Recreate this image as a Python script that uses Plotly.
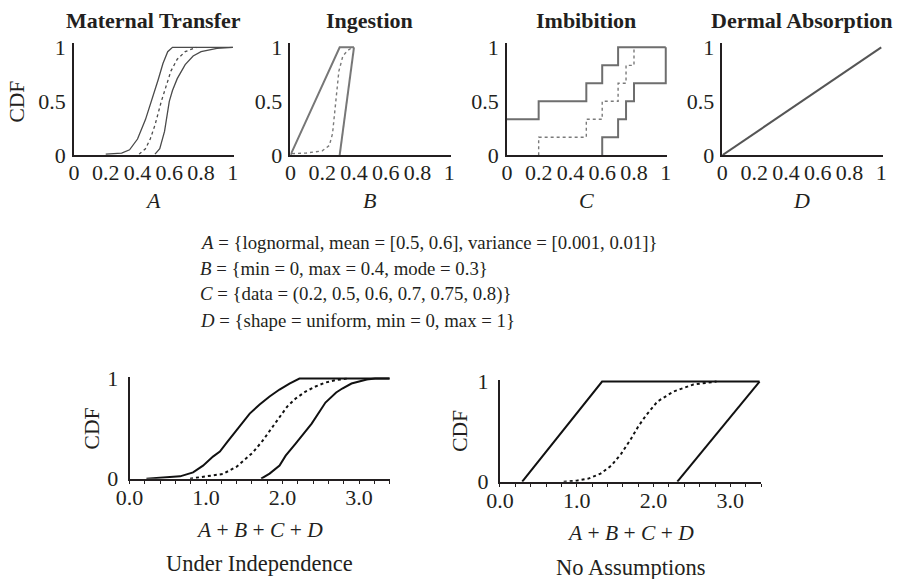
import plotly.graph_objects as go

# figure size and the placement frame (frame pixel = OFF + K * figure pixel)
W, H = 901, 595
OFF_X, K_X = 9.6, 0.987
OFF_Y, K_Y = 10.0, 0.96

# ---- top row: input p-boxes -------------------------------------------
maternal_left_x = [0.2, 0.3, 0.35, 0.4, 0.45, 0.5, 0.53, 0.56, 0.59, 0.62, 1.0]
maternal_left_y = [0.01, 0.02, 0.05, 0.15, 0.33, 0.55, 0.7, 0.85, 0.96, 1.0, 1.0]
maternal_mid_x = [0.41, 0.45, 0.48, 0.51, 0.55, 0.58, 0.61, 0.65, 0.7, 0.77]
maternal_mid_y = [0.01, 0.06, 0.15, 0.28, 0.5, 0.65, 0.78, 0.89, 0.96, 1.0]
maternal_right_x = [0.51, 0.54, 0.57, 0.6, 0.62, 0.65, 0.7, 0.75, 0.8, 0.9, 1.0]
maternal_right_y = [0.01, 0.06, 0.22, 0.5, 0.6, 0.71, 0.84, 0.92, 0.96, 0.99, 1.0]

ingestion_left_x = [0.0, 0.31, 0.4]
ingestion_left_y = [0.0, 1.0, 1.0]
ingestion_right_x = [0.31, 0.4]
ingestion_right_y = [0.0, 1.0]
ingestion_mid_x = [0.01, 0.1, 0.2, 0.245, 0.265, 0.28, 0.29, 0.305, 0.33, 0.36, 0.39]
ingestion_mid_y = [0.015, 0.02, 0.04, 0.09, 0.2, 0.4, 0.55, 0.78, 0.92, 0.97, 1.0]

imbibition_upper_x = [0.0, 0.2, 0.5, 0.6, 0.7, 1.0]
imbibition_upper_y = [0.333, 0.5, 0.667, 0.833, 1.0, 1.0]
imbibition_lower_x = [0.6, 0.6, 0.7, 0.75, 0.8, 1.0]
imbibition_lower_y = [0.0, 0.167, 0.333, 0.5, 0.667, 1.0]
imbibition_mid_x = [0.2, 0.2, 0.5, 0.6, 0.7, 0.75, 0.8]
imbibition_mid_y = [0.0, 0.167, 0.333, 0.5, 0.667, 0.833, 1.0]

dermal_x = [0.0, 1.0]
dermal_y = [0.0, 1.0]

# ---- bottom row: sum A + B + C + D ------------------------------------
indep_left_x = [0.22, 0.5, 0.66, 0.83, 0.96, 1.09, 1.18, 1.28, 1.39, 1.48, 1.57,
                1.7, 1.83, 1.96, 2.09, 2.22, 3.4]
indep_left_y = [0.0, 0.01, 0.023, 0.063, 0.13, 0.22, 0.27, 0.37, 0.48, 0.57, 0.65,
                0.74, 0.82, 0.89, 0.95, 1.0, 1.0]
indep_mid_x = [0.79, 1.0, 1.22, 1.4, 1.61, 1.74, 1.85, 1.96, 2.06, 2.17, 2.3,
               2.43, 2.56, 2.7, 2.85]
indep_mid_y = [0.0, 0.02, 0.047, 0.12, 0.26, 0.38, 0.5, 0.62, 0.72, 0.8, 0.87,
               0.92, 0.96, 0.985, 1.0]
indep_right_x = [1.72, 1.83, 1.96, 2.04, 2.17, 2.28, 2.38, 2.56, 2.7, 2.78, 2.9,
                 3.0, 3.1, 3.21, 3.4]
indep_right_y = [0.0, 0.05, 0.13, 0.23, 0.35, 0.46, 0.55, 0.76, 0.86, 0.9, 0.95,
                 0.97, 0.99, 1.0, 1.0]

noassume_left_x = [0.29, 1.33, 3.38]
noassume_left_y = [0.0, 1.0, 1.0]
noassume_right_x = [2.31, 3.38]
noassume_right_y = [0.0, 1.0]
noassume_mid_x = [0.83, 1.0, 1.15, 1.31, 1.45, 1.58, 1.7, 1.8, 1.9, 2.05, 2.26,
                  2.52, 2.82]
noassume_mid_y = [0.0, 0.01, 0.03, 0.08, 0.16, 0.28, 0.42, 0.55, 0.66, 0.8, 0.9,
                  0.97, 1.0]

panel_titles = ["Maternal Transfer", "Ingestion", "Imbibition", "Dermal Absorption"]
panel_vars = ["A", "B", "C", "D"]
top_ticks = [0, 0.2, 0.4, 0.6, 0.8, 1]
top_ticktext = ["0", "0.2", "0.4", "0.6", "0.8", "1"]
cdf_ticks = [0, 0.5, 1]
cdf_ticktext = ["0", "0.5", "1"]
sum_ticks = [round(0.2 * i, 1) for i in range(18)]
sum_ticktext = [f"{v:.1f}" if abs(v - round(v)) < 1e-9 else "" for v in sum_ticks]
formula_lines = [
    "<i>A</i> = {lognormal, mean = [0.5, 0.6], variance = [0.001, 0.01]}",
    "<i>B</i> = {min = 0, max = 0.4, mode = 0.3}",
    "<i>C</i> = {data = (0.2, 0.5, 0.6, 0.7, 0.75, 0.8)}",
    "<i>D</i> = {shape = uniform, min = 0, max = 1}",
]

SERIF = "Liberation Serif"
INK = "#231f20"


def fx(p):
    return ((p - OFF_X) / K_X) / W


def fy(p):
    return 1 - ((p - OFF_Y) / K_Y) / H


def xdom(a, b):
    return [fx(a), fx(b)]


def ydom(top, bottom):
    return [fy(bottom), fy(top)]


fig = go.Figure()


def line(x, y, ax, color, width, dash="solid", shape="linear"):
    fig.add_trace(go.Scatter(
        x=x, y=y, mode="lines", xaxis="x" + ax, yaxis="y" + ax,
        line=dict(color=color, width=width, dash=dash, shape=shape),
        hoverinfo="skip", showlegend=False))


# Maternal Transfer
line(maternal_left_x, maternal_left_y, "", "#4a4a4a", 1.3)
line(maternal_mid_x, maternal_mid_y, "", "#4a4a4a", 1.3, "dot")
line(maternal_right_x, maternal_right_y, "", "#4a4a4a", 1.3)
# Ingestion
line(ingestion_left_x, ingestion_left_y, "2", "#777777", 2)
line(ingestion_right_x, ingestion_right_y, "2", "#777777", 2)
line(ingestion_mid_x, ingestion_mid_y, "2", "#7a7a7a", 1.4, "dot")
# Imbibition
line(imbibition_upper_x, imbibition_upper_y, "3", "#6e6e6e", 2, shape="hv")
line(imbibition_lower_x, imbibition_lower_y, "3", "#6e6e6e", 2, shape="hv")
line(imbibition_mid_x, imbibition_mid_y, "3", "#7a7a7a", 1.4, "dot", shape="hv")
# Dermal Absorption
line(dermal_x, dermal_y, "4", "#555555", 2)
# Under independence
line(indep_left_x, indep_left_y, "5", "#111111", 2)
line(indep_mid_x, indep_mid_y, "5", "#111111", 2, "dot")
line(indep_right_x, indep_right_y, "5", "#111111", 2)
# No assumptions
line(noassume_left_x, noassume_left_y, "6", "#111111", 2)
line(noassume_mid_x, noassume_mid_y, "6", "#111111", 2, "dot")
line(noassume_right_x, noassume_right_y, "6", "#111111", 2)

tick_font = dict(family=SERIF, size=22, color=INK)

top_x_px = [(70, 231.6), (288, 449.6), (506, 667.6), (723, 884.6)]
layout = dict(
    width=W, height=H, margin=dict(l=0, r=0, t=0, b=0),
    paper_bgcolor="white", plot_bgcolor="white", showlegend=False,
)

for i, (a, b) in enumerate(top_x_px):
    suffix = "" if i == 0 else str(i + 1)
    layout["xaxis" + suffix] = dict(
        domain=xdom(a, b), range=[0, 1.01], anchor="y" + suffix,
        showline=True, linecolor=INK, linewidth=1.6, showgrid=False, zeroline=False,
        tickmode="array", tickvals=top_ticks, ticktext=top_ticktext,
        ticks="", ticklen=0,
        tickfont=tick_font, ticklabelstandoff=-3, fixedrange=True)
    layout["yaxis" + suffix] = dict(
        domain=ydom(43, 155), range=[0, 1.04], anchor="x" + suffix,
        showline=True, linecolor=INK, linewidth=1.6, showgrid=False, zeroline=False,
        tickmode="array", tickvals=cdf_ticks, ticktext=cdf_ticktext,
        ticks="", ticklen=0,
        tickfont=tick_font, ticklabelstandoff=2, fixedrange=True)

bottom = [("5", (126, 388), (376, 478)), ("6", (499, 762), (379, 481))]
for suffix, (a, b), (t, btm) in bottom:
    layout["xaxis" + suffix] = dict(
        domain=xdom(a, b), range=[0, 3.4], anchor="y" + suffix,
        showline=True, linecolor=INK, linewidth=2, showgrid=False, zeroline=False,
        tickmode="array", tickvals=sum_ticks, ticktext=sum_ticktext,
        ticks="outside", ticklen=3, tickwidth=1.3, tickcolor=INK,
        tickfont=tick_font, ticklabelstandoff=-5, fixedrange=True)
    layout["yaxis" + suffix] = dict(
        domain=ydom(t, btm), range=[0, 1.02], anchor="x" + suffix,
        showline=True, linecolor=INK, linewidth=2, showgrid=False, zeroline=False,
        tickmode="array", tickvals=[0, 1], ticktext=["0", "1"],
        ticks="", ticklen=0,
        tickfont=tick_font, ticklabelstandoff=5, fixedrange=True)

annotations = []


def text(s, px, py, size, bold=False, italic=False, angle=0, xanchor="center"):
    if bold:
        s = "<b>" + s + "</b>"
    if italic:
        s = "<i>" + s + "</i>"
    annotations.append(dict(
        text=s, x=fx(px), y=fy(py), xref="paper", yref="paper",
        xanchor=xanchor, yanchor="middle", showarrow=False, textangle=angle,
        font=dict(family=SERIF, size=size, color=INK)))


for (a, b), title, var in zip(top_x_px, panel_titles, panel_vars):
    centre = (a + b - 1.6) / 2
    text(title, centre, 20, 22, bold=True)
    text(var, centre, 200, 22, italic=True)
text("CDF", 13, 101, 21.5, angle=-90)

for ln, py in zip(formula_lines, [242, 268, 294, 320]):
    text(ln, 195, py, 18.8, xanchor="left")

text("CDF", 88, 428, 21.5, angle=-90)
text("CDF", 458, 430, 21.5, angle=-90)
text("<i>A</i> + <i>B</i> + <i>C</i> + <i>D</i>", 257, 529, 21.5)
text("<i>A</i> + <i>B</i> + <i>C</i> + <i>D</i>", 630, 532, 21.5)
text("Under Independence", 257, 563, 22.5)
text("No Assumptions", 630, 567, 22.5)

layout["annotations"] = annotations
fig.update_layout(**layout)
fig.write_html("out.html")
